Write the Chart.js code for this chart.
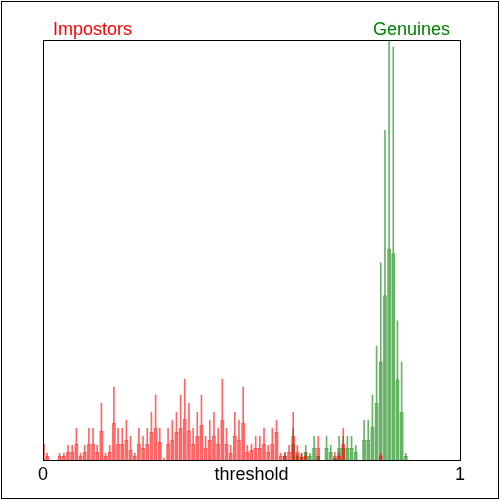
<!DOCTYPE html>
<html><head><meta charset="utf-8">
<script src="https://cdn.jsdelivr.net/npm/chart.js@4/dist/chart.umd.min.js"></script>
<style>html,body{margin:0;padding:0;background:#fff;overflow:hidden}</style>
</head><body>
<canvas id="c" width="500" height="500"></canvas>
<script>
// ---- data ----
const seriesNames = ['Impostors', 'Genuines'];
const tickValues = [0, 0.5, 1];
const tickLabels = ['0', 'threshold', '1'];
// histogram bins: 100 bins on [0,1], one entry per bin
const binCenters = Array.from({length: 100}, (_, k) => k / 100);
// each bin: "side" = body height, "peak" = thin central spike height
const impSide = [16,4,0,0,4,4,8,8,16,4, 8,16,16,8,29,4,8,37,16,16,
  20,10,4,16,12,16,28,32,18,0, 16,20,28,32,41,29,16,24,35,12,
  20,24,16,40,16,7,24,20,37,8, 10,12,12,16,8,16,28,4,4,8,
  24,8,3,4,0,0,12,0,0,0, 4,4,16,0,0,0,0,0,0,0,
  0,4,0,0,0,0,0,0,0,0, 0,0,0,0,0,0,0,0,0,0];
const impPeak = [32,7,0,0,7,7,15,15,32,7, 15,32,32,15,57,7,15,73,32,32,
  40,24,7,32,24,32,48,65,32,2, 32,40,48,65,81,57,32,48,65,24,
  40,48,32,81,32,15,48,40,73,15, 16,24,24,32,15,32,40,7,8,15,
  48,15,7,8,0,0,24,0,0,0, 8,8,32,0,0,0,0,0,0,0,
  0,7,0,0,0,0,0,0,0,0, 0,0,0,0,0,0,0,0,0,0];
const genSide = [0,0,0,0,0,0,0,0,0,0, 0,0,0,0,0,0,0,0,0,0,
  0,0,0,0,0,0,0,0,0,0, 0,0,0,0,0,0,0,0,0,0,
  0,0,0,0,0,0,0,0,0,0, 0,0,0,0,0,0,0,0,4,0,
  16,4,3,8,4,12,4,0,12,8, 2,12,12,12,12,8,0,20,20,33,
  57,98,164,210,206,80,48,4,0,0, 0,0,0,0,0,0,0,0,0,0];
const genPeak = [0,0,0,0,0,0,0,0,0,0, 0,0,0,0,0,0,0,0,0,0,
  0,0,0,0,0,0,0,0,0,0, 0,0,0,0,0,0,0,0,0,0,
  0,0,0,0,0,0,0,0,0,0, 0,0,0,0,0,0,0,0,7,0,
  32,6,7,15,7,24,4,0,24,15, 2,24,24,24,24,15,0,40,40,65,
  114,197,329,450,412,139,98,7,0,0, 0,0,0,0,0,0,0,0,0,0];
const yMax = 419;

// ---- chart ----
const red = 'rgba(255,0,0,0.6)';
const green = 'rgba(0,128,0,0.6)';
const body = (vals) => binCenters.map((x, i) => ({x, y: vals[i]}));
const spike = (lo, hi) => binCenters.map((x, i) => ({x, y: [lo[i], hi[i]]}));

const deco = {
  id: 'deco',
  afterDraw(chart) {
    const {ctx, chartArea: a} = chart;
    ctx.save();
    ctx.strokeStyle = '#000';
    ctx.lineWidth = 1;
    const l = Math.floor(a.left) + 0.5, t = Math.floor(a.top) + 0.5;
    const r = Math.floor(a.right) + 0.5, b = Math.floor(a.bottom) + 0.5;
    ctx.strokeRect(l, t, r - l, b - t);
    ctx.strokeRect(1.5, 1.5, 497, 497);
    ctx.font = '18px "Liberation Sans", Arial, sans-serif';
    ctx.textBaseline = 'alphabetic';
    ctx.textAlign = 'left';
    ctx.fillStyle = '#ff0000';
    ctx.fillText(seriesNames[0], 53, 35);
    ctx.textAlign = 'right';
    ctx.fillStyle = '#008000';
    ctx.fillText(seriesNames[1], 450, 35);
    ctx.restore();
  }
};

new Chart(document.getElementById('c'), {
  type: 'bar',
  data: {
    datasets: [
      {label: seriesNames[0], data: body(impSide), backgroundColor: red, barThickness: 3},
      {label: seriesNames[0] + ' peak', data: spike(impSide, impPeak), backgroundColor: red, barThickness: 1},
      {label: seriesNames[1], data: body(genSide), backgroundColor: green, barThickness: 3},
      {label: seriesNames[1] + ' peak', data: spike(genSide, genPeak), backgroundColor: green, barThickness: 1}
    ]
  },
  options: {
    responsive: false,
    animation: false,
    events: [],
    datasets: {bar: {grouped: false, borderWidth: 0, borderSkipped: false}},
    layout: {padding: {left: 43, right: 40, top: 40, bottom: 18}},
    plugins: {legend: {display: false}, tooltip: {enabled: false}, title: {display: false}},
    scales: {
      x: {
        type: 'linear', min: 0, max: 1, offset: false,
        grid: {display: false}, border: {display: false},
        afterBuildTicks: (s) => { s.ticks = tickValues.map(v => ({value: v})); },
        ticks: {
          autoSkip: false, maxRotation: 0, padding: -4, color: '#000',
          font: {family: '"Liberation Sans", Arial, sans-serif', size: 18},
          callback: (v, i) => tickLabels[i]
        }
      },
      y: {display: false, min: 0, max: yMax}
    }
  },
  plugins: [deco]
});
</script>
</body></html>
